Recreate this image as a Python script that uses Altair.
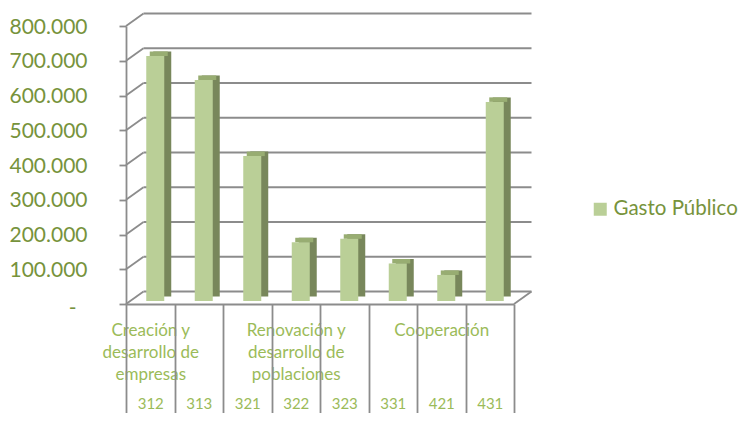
import json
import altair as alt
import pandas as pd

# ---------------- data ----------------
codes = ["312", "313", "321", "322", "323", "331", "421", "431"]
gasto = [705000, 636000, 417000, 169000, 179000, 108000, 75000, 573000]
group_lines = [
    ["Creación y", "desarrollo de", "empresas"],
    ["Renovación y", "desarrollo de", "poblaciones"],
    ["Cooperación"],
]
group_label_pos = [0.5, 3.5, 6.5]
y_ticks = [0, 100000, 200000, 300000, 400000, 500000, 600000, 700000, 800000]
series_name = "Gasto Público"

# ---------------- style ----------------
FRONT = "#BACF97"
SIDE = "#78875B"
TOP = "#98AD72"
GRID = "#8C8C8C"
YLAB = "#77933C"
XLAB = "#9BBB59"
FONT = "Lato"
LW = 1.8

W, H = 388, 278
PAD = {"left": 118, "top": 18, "right": 228, "bottom": 109}
DX, DY = 17.5, -12.5          # depth of the 3-D box (px)
BAR_DX, BAR_DY = 5, -3        # bar placed slightly inside the box
SX, SY = 7, -4.5              # bar's own depth
BAR_W = 18

n = len(codes)
bars = pd.DataFrame({
    "code": codes,
    "gasto": gasto,
    "pos": [i + 0.5 for i in range(n)],
    "serie": [series_name] * n,
})
ticks_df = pd.DataFrame({"v": y_ticks, "x0": [0] * len(y_ticks), "x1": [n] * len(y_ticks)})
edge_df = pd.DataFrame({"x": [n], "v": [0]})

xscale = alt.Scale(domain=[0, n], nice=False, zero=False, padding=0)
yscale = alt.Scale(domain=[0, y_ticks[-1]], nice=False, padding=0)

y_expr = ("datum.value == 0 ? '-' : "
          "replace(format(datum.value, ',.0f'), regexp(',', 'g'), '.')")


def y_axis():
    return alt.Axis(
        values=y_ticks, labelExpr=y_expr, tickSize=7, tickColor=GRID, tickWidth=LW,
        domainColor=GRID, domainWidth=LW, grid=False, title=None,
        labelFont=FONT, labelFontSize=21, labelColor=YLAB,
        labelPadding={"condition": {"test": "datum.value == 0", "value": 43}, "value": 32},
        labelOffset={"condition": {"test": "datum.value == 0", "value": 4}, "value": 1},
        labelFlush=False, labelOverlap=False)


# back wall gridlines
back_grid = alt.Chart(ticks_df).mark_rule(
    color=GRID, strokeWidth=LW, xOffset=DX, x2Offset=DX, yOffset=DY, y2Offset=DY
).encode(
    x=alt.X("x0:Q", scale=xscale, axis=None),
    x2="x1:Q",
    y=alt.Y("v:Q", scale=yscale, axis=y_axis()),
)

# left wall diagonals
wall_diag = alt.Chart(ticks_df).mark_rule(
    color=GRID, strokeWidth=LW, x2Offset=DX, y2Offset=DY
).encode(
    x=alt.X("x0:Q", scale=xscale, axis=None),
    x2="x0:Q",
    y=alt.Y("v:Q", scale=yscale, axis=y_axis()),
    y2="v:Q",
)

# floor right edge
floor_edge = alt.Chart(edge_df).mark_rule(
    color=GRID, strokeWidth=LW, x2Offset=DX, y2Offset=DY
).encode(
    x=alt.X("x:Q", scale=xscale, axis=None),
    x2="x:Q",
    y=alt.Y("v:Q", scale=yscale, axis=y_axis()),
    y2="v:Q",
)

code_expr = json.dumps(codes, ensure_ascii=False) + "[floor(datum.value)]"
group_expr = (json.dumps(group_lines, ensure_ascii=False)
              + "[indexof(" + json.dumps(group_label_pos) + ", datum.value)]")

side = alt.Chart(bars).mark_bar(
    color=SIDE, width=BAR_W, orient="vertical",
    xOffset=BAR_DX + SX, yOffset=BAR_DY + SY, y2Offset=BAR_DY + SY,
).encode(
    x=alt.X("pos:Q", scale=xscale, axis=alt.Axis(
        orient="bottom", values=[i + 0.5 for i in range(n)], labelExpr=code_expr,
        ticks=False, domain=False, grid=False, title=None,
        labelFont=FONT, labelFontSize=15, labelColor=XLAB,
        labelPadding=99, labelBaseline="middle",
        labelFlush=False, labelOverlap=False)),
    y=alt.Y("gasto:Q", scale=yscale, axis=y_axis()),
    y2=alt.datum(0),
)

top = alt.Chart(bars).mark_bar(
    color=TOP, width=BAR_W, orient="vertical",
    xOffset=BAR_DX + SX / 2, yOffset=BAR_DY + SY, y2Offset=BAR_DY,
).encode(
    x=alt.X("pos:Q", scale=xscale, axis=alt.Axis(
        orient="bottom", values=group_label_pos, labelExpr=group_expr,
        ticks=False, domain=False, grid=False, title=None,
        labelFont=FONT, labelFontSize=17, labelColor=XLAB,
        labelPadding=18, labelBaseline="top", labelLineHeight=22,
        labelFlush=False, labelOverlap=False)),
    y=alt.Y("gasto:Q", scale=yscale, axis=y_axis()),
    y2="gasto:Q",
)

front = alt.Chart(bars).mark_bar(
    width=BAR_W, orient="vertical",
    xOffset=BAR_DX, yOffset=BAR_DY, y2Offset=BAR_DY,
).encode(
    x=alt.X("pos:Q", scale=xscale, axis=alt.Axis(
        orient="bottom", values=list(range(n + 1)), labels=False,
        tickSize=109, tickColor=GRID, tickWidth=LW,
        domainColor=GRID, domainWidth=LW, grid=False, title=None)),
    y=alt.Y("gasto:Q", scale=yscale, axis=y_axis()),
    y2=alt.datum(0),
    color=alt.Color("serie:N", scale=alt.Scale(range=[FRONT]), legend=alt.Legend(
        title=None, orient="none", legendX=464, legendY=173,
        symbolType="square", symbolSize=169, symbolStrokeWidth=0,
        labelFont=FONT, labelFontSize=20.5, labelColor=YLAB, labelOffset=3,
        padding=0)),
)

chart = alt.layer(back_grid, wall_diag, floor_edge, side, top, front).resolve_axis(
    x="independent"
).properties(
    width=W, height=H,
    padding=PAD,
    autosize=alt.AutoSizeParams(type="none"),
    background="white",
).configure_view(stroke=None)

chart.save("out.html", embed_options={"renderer": "svg", "actions": False})
